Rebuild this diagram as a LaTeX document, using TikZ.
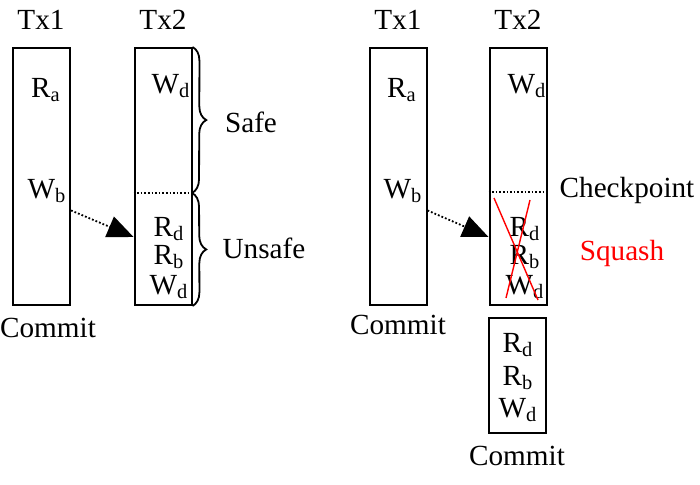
\documentclass[tikz,border=0pt]{standalone}
\usepackage{fontspec}
\setmainfont{Liberation Serif}
\usetikzlibrary{arrows.meta,decorations.pathreplacing}

\begin{document}
\begin{tikzpicture}[x=0.5pt,y=-0.5pt]
        \tikzstyle{every node}=[font=\fontsize{14.6}{17}\selectfont, inner sep=0pt]
        \tikzstyle{txbox}=[draw, line width=1pt, minimum width=28.5pt, minimum height=128.5pt]
        \tikzstyle{dep}=[densely dotted, line width=0.9pt, -{Triangle[length=13pt,width=11pt]}]
        \tikzstyle{brc}=[decorate, decoration={brace, amplitude=7pt}, line width=0.9pt]

        \useasboundingbox (0,0) rectangle (700,485);

        % before the checkpoint
        \node[txbox] (l1) at (41.5,176.5) {};
        \node[txbox] (l2) at (163,176.5) {};
        \coordinate (lm) at (192,193);
        \node (l1h) at (41,20) {Tx1};
        \node (l2h) at (163,20) {Tx2};
        \node (lra) at (46,90) {R\textsubscript{a}};
        \node (lwb) at (47,191) {W\textsubscript{b}};
        \node (lwd) at (171,86) {W\textsubscript{d}};
        \node (lrd) at (169,229) {R\textsubscript{d}};
        \node (lrb) at (169,257) {R\textsubscript{b}};
        \node (lwd2) at (169,287) {W\textsubscript{d}};
        \node (lc) at (48,328) {Commit};
        \node (safe) at (251,122) {Safe};
        \node (unsafe) at (264,248) {Unsafe};
        \draw[densely dotted, line width=0.8pt] (l2.west |- lm) -- (lm);
        \draw[brc] (l2.north east) -- (lm);
        \draw[brc] (lm) -- (l2.south east);
        \draw[dep] (l1.-49.6) -- (l2.-116);

        % with the checkpoint
        \node[txbox] (r1) at (398,176.5) {};
        \node[txbox] (r2) at (518,176.5) {};
        \node[txbox, minimum height=57.5pt] (r3) at (517.5,375.5) {};
        \coordinate (rm) at (546,192);
        \node (r1h) at (398,20) {Tx1};
        \node (r2h) at (518,20) {Tx2};
        \node (rra) at (402,90) {R\textsubscript{a}};
        \node (rwb) at (403,191) {W\textsubscript{b}};
        \node (rwd) at (527,86) {W\textsubscript{d}};
        \node (rrd) at (525,229) {R\textsubscript{d}};
        \node (rrb) at (525,257) {R\textsubscript{b}};
        \node (rwd2) at (525,287) {W\textsubscript{d}};
        \node (rc) at (398,325) {Commit};
        \node (chk) at (627,190) {Checkpoint};
        \node[red] (squash) at (622,253) {Squash};
        \node (nrd) at (518,345) {R\textsubscript{d}};
        \node (nrb) at (518,378) {R\textsubscript{b}};
        \node (nwd) at (518,410) {W\textsubscript{d}};
        \node (nc) at (517,456) {Commit};
        \draw[densely dotted, line width=0.8pt] (r2.west |- rm) -- (rm);
        \draw[dep] (r1.-49.6) -- (r2.-116);
        \draw[red, line width=0.7pt] (494,198) -- (538,300);
        \draw[red, line width=0.7pt] (530,200) -- (506,298);
\end{tikzpicture}
\end{document}
